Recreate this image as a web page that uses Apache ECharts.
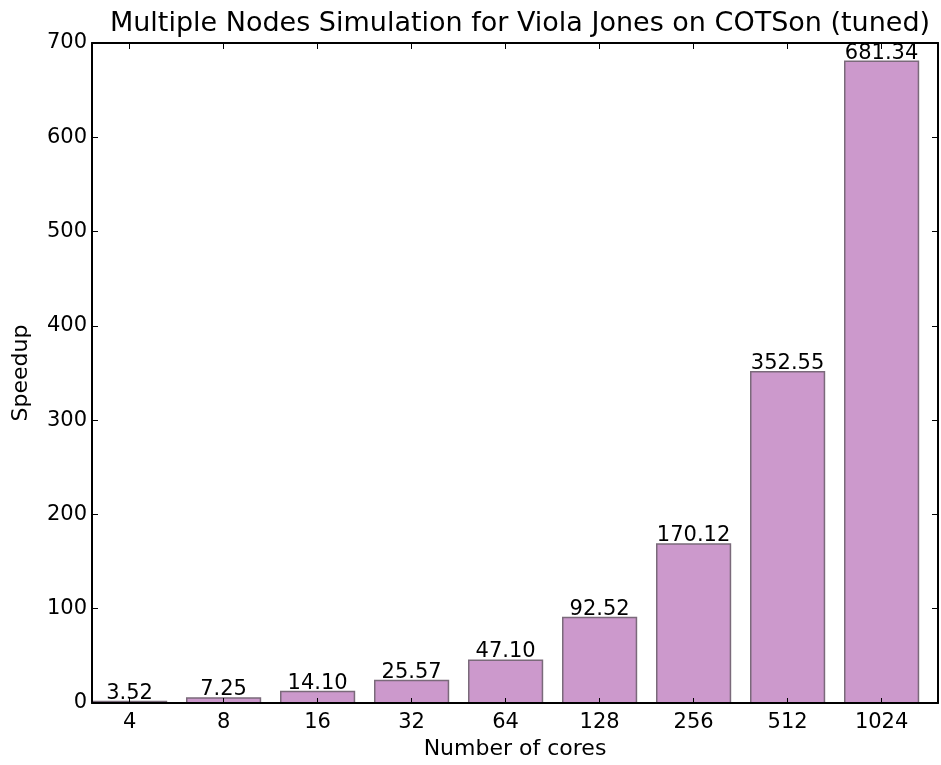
<!DOCTYPE html>
<html>
<head>
<meta charset="utf-8">
<script src="https://cdn.jsdelivr.net/npm/echarts@6/dist/echarts.min.js"></script>
<style>
  html, body { margin: 0; padding: 0; background: #fff; }
  #chart { width: 941px; height: 765px; }
</style>
</head>
<body>
<div id="chart"></div>
<script>
// Core counts and measured speedups
const cores = ['4', '8', '16', '32', '64', '128', '256', '512', '1024'];
const speedup = [3.52, 7.25, 14.10, 25.57, 47.10, 92.52, 170.12, 352.55, 681.34];
const yTicks = [0, 100, 200, 300, 400, 500, 600, 700];

const FONT = 'DejaVu Sans';
const W = 941, H = 765;

// Outer frame of the plot (box with inward ticks on all sides)
const frame = { left: 92, right: 938, top: 43, bottom: 704 };
const unit = (frame.right - frame.left) / cores.length;
// Bars sit at the left of each unit slot (width 0.8 unit), so the band
// grid that carries them is shifted left by 0.1 unit.
const shift = 0.1 * unit;

const chart = echarts.init(document.getElementById('chart'), null, { renderer: 'canvas' });

const yMax = yTicks[yTicks.length - 1];
const yStep = yTicks[1] - yTicks[0];

const tickStyle = { color: '#000', width: 1 };
const frameLine = { show: true, onZero: false, lineStyle: { color: '#000', width: 2 } };

chart.setOption({
  backgroundColor: '#ffffff',
  animation: false,
  textStyle: { fontFamily: FONT },
  title: {
    text: 'Multiple Nodes Simulation for Viola Jones on COTSon (tuned)',
    left: (frame.left + frame.right) / 2,
    textAlign: 'center',
    top: 5,
    textStyle: { fontFamily: FONT, fontSize: 27, fontWeight: 'normal', color: '#000' }
  },
  grid: [
    // bars
    {
      left: frame.left - shift,
      right: W - (frame.right - shift),
      top: frame.top,
      bottom: H - frame.bottom,
      containLabel: false
    },
    // frame box
    {
      left: frame.left,
      right: W - frame.right,
      top: frame.top,
      bottom: H - frame.bottom,
      containLabel: false
    }
  ],
  xAxis: [
    {
      gridIndex: 0, type: 'category', data: cores, position: 'bottom', z: 5,
      axisLine: { show: false },
      axisTick: { show: true, inside: true, alignWithLabel: true, length: 6, lineStyle: tickStyle },
      axisLabel: { color: '#000', fontSize: 21, fontFamily: FONT, margin: 8 }
    },
    {
      gridIndex: 0, type: 'category', data: cores, position: 'top', z: 5,
      axisLine: { show: false },
      axisTick: { show: true, inside: true, alignWithLabel: true, length: 6, lineStyle: tickStyle },
      axisLabel: { show: false }
    },
    {
      gridIndex: 1, type: 'value', min: 0, max: cores.length, position: 'bottom', z: 5,
      axisLine: frameLine,
      axisTick: { show: false }, axisLabel: { show: false }, splitLine: { show: false },
      name: 'Number of cores', nameLocation: 'middle', nameGap: 35,
      nameTextStyle: { color: '#000', fontSize: 22, fontFamily: FONT }
    },
    {
      gridIndex: 1, type: 'value', min: 0, max: cores.length, position: 'top', z: 5,
      axisLine: frameLine,
      axisTick: { show: false }, axisLabel: { show: false }, splitLine: { show: false }
    }
  ],
  yAxis: [
    {
      gridIndex: 0, type: 'value', min: 0, max: yMax, interval: yStep,
      axisLine: { show: false }, axisTick: { show: false }, axisLabel: { show: false },
      splitLine: { show: false }
    },
    {
      gridIndex: 1, type: 'value', min: 0, max: yMax, interval: yStep, position: 'left', z: 5,
      axisLine: frameLine,
      axisTick: { show: true, inside: true, length: 6, lineStyle: tickStyle },
      axisLabel: { color: '#000', fontSize: 21, fontFamily: FONT, margin: 5 },
      splitLine: { show: false },
      name: 'Speedup', nameLocation: 'middle', nameGap: 60, nameRotate: 90,
      nameTextStyle: { color: '#000', fontSize: 22, fontFamily: FONT }
    },
    {
      gridIndex: 1, type: 'value', min: 0, max: yMax, interval: yStep, position: 'right', z: 5,
      axisLine: frameLine,
      axisTick: { show: true, inside: true, length: 6, lineStyle: tickStyle },
      axisLabel: { show: false }, splitLine: { show: false }
    }
  ],
  series: [
    {
      type: 'bar',
      xAxisIndex: 0, yAxisIndex: 0,
      data: speedup,
      barWidth: '80%',
      itemStyle: { color: '#cc99cc', borderColor: '#7a6a7a', borderWidth: 1.5 },
      label: {
        show: true, position: 'top', distance: -3,
        formatter: p => p.value.toFixed(2),
        color: '#000', fontSize: 21, fontFamily: FONT
      },
      z: 1
    }
  ]
});
</script>
</body>
</html>
